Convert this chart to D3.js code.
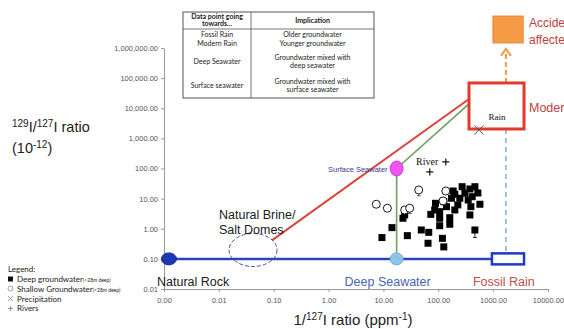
<!DOCTYPE html>
<html><head><meta charset="utf-8">
<script src="https://cdn.jsdelivr.net/npm/d3@7"></script>
<style>body{margin:0;background:#fff}svg{display:block}</style>
</head><body>
<svg id="c" width="564" height="329"></svg>
<script>
// ---- data ----
const xTicks = [0.001, 0.01, 0.1, 1, 10, 100, 1000, 10000];
const yTicks = [0.01, 0.1, 1, 10, 100, 1000, 10000, 100000, 1000000];

const deepX = [9.4, 14.3, 22.7, 24.4, 27.3, 49, 67, 65, 119, 126, 73, 106, 106, 162, 162, 200, 89, 126, 141, 174, 200, 272, 305, 377, 465, 247, 351, 415, 574, 393, 377, 465, 187, 106, 86, 227, 527];
const deepY = [0.51, 1.09, 2.23, 2.87, 0.59, 0.91, 0.76, 0.33, 0.48, 0.25, 3.0, 2.23, 1.26, 2.33, 1.41, 4.2, 7.0, 7.9, 5.4, 10.3, 13.9, 24.9, 15.1, 20.9, 24.9, 10.3, 9.0, 11.6, 6.5, 5.4, 2.87, 0.91, 17.9, 3.69, 4.2, 6.2, 15.4];
const deepErr = [0,0,0,0,0,0,0,0,0,0,0,0,0,0,0,0,0,0,0,0,0,0,0,0,0,0,0,0,0,0,0,0.4,0,0,0,0,0];

const shallowX = [7.4, 11.8, 24.4, 30.1, 44, 137, 122];
const shallowY = [6.5, 4.8, 4.2, 4.8, 19.4, 17.9, 8.4];
const shallowErr = [0, 0, 0, 1.6, 7, 0, 0];

const precipX = [550];
const precipY = [1900];
const riverX = [137, 70];
const riverY = [165, 77];

const endNames = ["Natural Rock", "Deep Seawater", "Surface Seawater"];
const endX = [0.00123, 17.4, 17.4];
const endY = [0.1, 0.1, 100];

const modernRainX = [363, 3656], modernRainY = [2050, 69000];
const fossilRainX = [950, 3656], fossilRainY = 0.1;
const accidentX = [990, 3530], accidentY = [1.47e6, 1.15e7];
const brineX = 0.042, brineY = 0.197;

const redLineX = [0.094, 363], redLineY = [0.42, 20300];
const greenLineX = [17.4, 363], greenLineY = [100, 13900];
const blueLineX = [0.00123, 950];
const dashX = 1710;

const tableRows = [
  ["Fossil Rain", ["Older groundwater"]],
  ["Modern Rain", ["Younger groundwater"]],
  ["Deep Seawater", ["Groundwater mixed with", "deep seawater"]],
  ["Surface seawater", ["Groundwater mixed with", "surface seawater"]]
];

// ---- scales ----
const svg = d3.select("#c");
const x = d3.scaleLog().domain([0.001, 10000]).range([164, 548]);
const y = d3.scaleLog().domain([0.01, 1000000]).range([289, 48]);
const SANS = "Liberation Sans, Arial, sans-serif";

// axes
const xAxis = svg.append("g").attr("transform", "translate(0,289)")
  .call(d3.axisBottom(x).tickValues(xTicks).tickFormat(d3.format(".2f")).tickSize(3).tickSizeOuter(0));
const yAxis = svg.append("g").attr("transform", "translate(164,0)")
  .call(d3.axisLeft(y).tickValues(yTicks).tickFormat(d3.format(",.2f")).tickSize(3).tickSizeOuter(0));
[xAxis, yAxis].forEach(a => {
  a.selectAll("path,line").attr("stroke", "#999");
  a.selectAll("text").attr("fill", "#555").style("font-family", SANS).style("font-size", "7.5px");
});
xAxis.selectAll("text").attr("dy", "1.1em");
yAxis.selectAll("text").attr("x", -6);

// axis titles
const xt = svg.append("text").attr("x", 353).attr("y", 325).attr("text-anchor", "middle")
  .style("font-family", SANS).style("font-size", "15px").attr("fill", "#222");
xt.append("tspan").text("1/");
xt.append("tspan").text("127").attr("dy", -5).style("font-size", "10px");
xt.append("tspan").text("I ratio (ppm").attr("dy", 5);
xt.append("tspan").text("-1").attr("dy", -5).style("font-size", "10px");
xt.append("tspan").text(")").attr("dy", 5);

const yt = svg.append("text").attr("x", 12).attr("y", 132)
  .style("font-family", SANS).style("font-size", "14.5px").attr("fill", "#222");
yt.append("tspan").text("129").attr("dy", -5).style("font-size", "10px");
yt.append("tspan").text("I/").attr("dy", 5);
yt.append("tspan").text("127").attr("dy", -5).style("font-size", "10px");
yt.append("tspan").text("I ratio").attr("dy", 5);
const yt2 = svg.append("text").attr("x", 12).attr("y", 153)
  .style("font-family", SANS).style("font-size", "14.5px").attr("fill", "#222");
yt2.append("tspan").text("(10");
yt2.append("tspan").text("-12").attr("dy", -5).style("font-size", "10px");
yt2.append("tspan").text(")").attr("dy", 5);

// ---- mixing lines ----
const line = d3.line().x(d => x(d[0])).y(d => y(d[1]));
svg.append("path").attr("d", line(blueLineX.map(v => [v, fossilRainY])))
  .attr("stroke", "#2c46b8").attr("stroke-width", 2.5).attr("fill", "none");
svg.append("path").attr("d", line(d3.zip(redLineX, redLineY)))
  .attr("stroke", "#d9453a").attr("stroke-width", 2).attr("fill", "none");
svg.append("path").attr("d", line(d3.zip(greenLineX, greenLineY)))
  .attr("stroke", "#6aa05a").attr("stroke-width", 1.6).attr("fill", "none");
svg.append("path").attr("d", line([[endX[2], endY[2]], [endX[1], endY[1]]]))
  .attr("stroke", "#6aa05a").attr("stroke-width", 1.6).attr("fill", "none");

// dashed light blue
svg.append("line").attr("x1", x(dashX)).attr("x2", x(dashX))
  .attr("y1", y(modernRainY[0])).attr("y2", y(fossilRainY) - 5)
  .attr("stroke", "#86b4de").attr("stroke-width", 1.6).attr("stroke-dasharray", "5,4");

// orange dashed arrow
const ax = x(dashX);
svg.append("line").attr("x1", ax).attr("x2", ax).attr("y1", y(modernRainY[1])).attr("y2", y(accidentY[0]) + 6)
  .attr("stroke", "#f0a050").attr("stroke-width", 2.2).attr("stroke-dasharray", "5,3");
svg.append("path").attr("d", `M${ax - 5},${y(accidentY[0]) + 13} L${ax},${y(accidentY[0]) + 6} L${ax + 5},${y(accidentY[0]) + 13}`)
  .attr("stroke", "#f0a050").attr("stroke-width", 2.2).attr("fill", "none");

// boxes
svg.append("rect").attr("x", x(modernRainX[0])).attr("y", y(modernRainY[1]))
  .attr("width", x(modernRainX[1]) - x(modernRainX[0])).attr("height", y(modernRainY[0]) - y(modernRainY[1]))
  .attr("fill", "#fff").attr("stroke", "#e23a2c").attr("stroke-width", 3);
svg.append("rect").attr("x", x(fossilRainX[0])).attr("y", y(fossilRainY) - 5.5)
  .attr("width", x(fossilRainX[1]) - x(fossilRainX[0])).attr("height", 11)
  .attr("fill", "#fff").attr("stroke", "#2138c0").attr("stroke-width", 2.5);
svg.append("rect").attr("x", x(accidentX[0])).attr("y", y(accidentY[1]))
  .attr("width", x(accidentX[1]) - x(accidentX[0])).attr("height", y(accidentY[0]) - y(accidentY[1]))
  .attr("fill", "#f59a45").attr("stroke", "#e8893a").attr("stroke-width", 1);

// natural brine ellipse
svg.append("ellipse").attr("cx", x(brineX)).attr("cy", y(brineY)).attr("rx", 24).attr("ry", 16.5)
  .attr("fill", "none").attr("stroke", "#4a5a9a").attr("stroke-width", 1).attr("stroke-dasharray", "4,2");

// endmember markers
svg.append("ellipse").attr("cx", x(endX[0])).attr("cy", y(endY[0])).attr("rx", 7.5).attr("ry", 6)
  .attr("fill", "#1f36b5").attr("stroke", "#142a90").attr("stroke-width", 1);
svg.append("ellipse").attr("cx", x(endX[1])).attr("cy", y(endY[1])).attr("rx", 6.5).attr("ry", 6)
  .attr("fill", "#8cc4ec").attr("stroke", "#70aee0").attr("stroke-width", 1);
svg.append("ellipse").attr("cx", x(endX[2])).attr("cy", y(endY[2])).attr("rx", 6.5).attr("ry", 7.5)
  .attr("fill", "#ee55ee").attr("stroke", "#d040d8").attr("stroke-width", 1);

// deep groundwater squares
const gD = svg.append("g");
deepX.forEach((v, i) => {
  const px = x(v), py = y(deepY[i]);
  if (deepErr[i]) {
    gD.append("line").attr("x1", px).attr("x2", px).attr("y1", py).attr("y2", y(deepY[i] - deepErr[i]))
      .attr("stroke", "#000").attr("stroke-width", 0.8);
    gD.append("line").attr("x1", px - 2).attr("x2", px + 2).attr("y1", y(deepY[i] - deepErr[i])).attr("y2", y(deepY[i] - deepErr[i]))
      .attr("stroke", "#000").attr("stroke-width", 0.8);
  }
  gD.append("rect").attr("x", px - 3.5).attr("y", py - 3.5).attr("width", 7).attr("height", 7).attr("fill", "#000");
});
// shallow circles
shallowX.forEach((v, i) => {
  const px = x(v), py = y(shallowY[i]);
  if (shallowErr[i]) {
    svg.append("line").attr("x1", px).attr("x2", px).attr("y1", py).attr("y2", y(shallowY[i] - shallowErr[i]))
      .attr("stroke", "#333").attr("stroke-width", 0.8);
    svg.append("line").attr("x1", px - 2).attr("x2", px + 2).attr("y1", y(shallowY[i] - shallowErr[i])).attr("y2", y(shallowY[i] - shallowErr[i]))
      .attr("stroke", "#333").attr("stroke-width", 0.8);
  }
  svg.append("circle").attr("cx", px).attr("cy", py).attr("r", 4).attr("fill", "#fff").attr("stroke", "#000").attr("stroke-width", 0.9);
});
// precipitation
precipX.forEach((v, i) => {
  const px = x(v), py = y(precipY[i]);
  svg.append("path").attr("d", `M${px-4.5},${py-4.5}L${px+4.5},${py+4.5}M${px-4.5},${py+4.5}L${px+4.5},${py-4.5}`)
    .attr("stroke", "#555").attr("stroke-width", 1);
});
// rivers
riverX.forEach((v, i) => {
  const px = x(v), py = y(riverY[i]);
  svg.append("path").attr("d", `M${px-3.5},${py}L${px+3.5},${py}M${px},${py-3.5}L${px},${py+3.5}`)
    .attr("stroke", "#111").attr("stroke-width", 1.2);
});

// ---- labels ----
function label(t, px, py, size, color, anchor, family, weight) {
  return svg.append("text").attr("x", px).attr("y", py).text(t)
    .attr("text-anchor", anchor || "start").attr("fill", color)
    .style("font-family", family || SANS).style("font-size", size + "px").style("font-weight", weight || "normal");
}
label(endNames[0], 157, 286, 12.5, "#1a1a1a");
label(endNames[1], x(endX[1]) - 9, 286, 12.5, "#4866b0", "middle");
label("Fossil Rain", x(fossilRainX[0]) - 19, 286, 12.5, "#c05048");
label(endNames[2], x(endX[2]) - 9, y(endY[2]) + 3, 7.5, "#3a3a8c", "end");
label("Natural Brine/", 219, 219, 12.5, "#1a1a1a");
label("Salt Domes", 219, 234, 12.5, "#1a1a1a");
label("Rain", 497, 120, 9, "#111", "middle", "Liberation Serif, serif");
label("River", 416, 165, 10, "#111", "start", "Liberation Serif, serif");
// texts shown cut at the right edge in the reference
label("Moder", 529, 112, 12.5, "#c04040");
label("Accide", 529, 27, 12, "#c04040");
label("affecte", 529, 44, 12, "#c04040");

// legend
const LF = "Lato, Open Sans, sans-serif";
label("Legend:", 8, 272, 8, "#222", "start", LF);
svg.append("rect").attr("x", 8).attr("y", 276.5).attr("width", 5).attr("height", 5).attr("fill", "#111");
const l1 = label("Deep groundwater", 17, 281.5, 8, "#222", "start", LF);
l1.append("tspan").text("(>28m deep)").style("font-size", "5px");
svg.append("circle").attr("cx", 10.5).attr("cy", 288.5).attr("r", 2.5).attr("fill", "#fff").attr("stroke", "#777").attr("stroke-width", 0.7);
const l2 = label("Shallow Groundwater", 17, 291.5, 8, "#222", "start", LF);
l2.append("tspan").text("(<28m deep)").style("font-size", "5px");
svg.append("path").attr("d", "M8,296L13,301M8,301L13,296").attr("stroke", "#777").attr("stroke-width", 0.7);
label("Precipitation", 17, 301.5, 8, "#222", "start", LF);
svg.append("path").attr("d", "M8,308.5L13,308.5M10.5,306L10.5,311").attr("stroke", "#777").attr("stroke-width", 0.8);
label("Rivers", 17, 311, 8, "#222", "start", LF);

// ---- table ----
const T = svg.append("g");
const tx0 = 183, tx1 = 374, tMid = 251, ty0 = 12, ty1 = 98, tHead = 29;
T.append("rect").attr("x", tx0).attr("y", ty0).attr("width", tx1 - tx0).attr("height", ty1 - ty0)
  .attr("fill", "#fff").attr("stroke", "#555").attr("stroke-width", 1);
T.append("line").attr("x1", tx0).attr("x2", tx1).attr("y1", tHead).attr("y2", tHead).attr("stroke", "#555").attr("stroke-width", 0.8);
T.append("line").attr("x1", tMid).attr("x2", tMid).attr("y1", ty0).attr("y2", ty1).attr("stroke", "#555").attr("stroke-width", 0.8);
const TF = "Lato, Open Sans, sans-serif";
const c1 = (tx0 + tMid) / 2, c2 = (tMid + tx1) / 2;
function tt(t, px, py, bold) {
  T.append("text").attr("x", px).attr("y", py).text(t).attr("text-anchor", "middle").attr("fill", "#222")
    .style("font-family", TF).style("font-size", "7px").style("font-weight", bold ? "bold" : "normal");
}
tt("Data point going", c1, 19, true);
tt("towards...", c1, 26, true);
tt("Implication", c2, 22.5, true);
const rowY = [37, 45.5, 64, 88];
tableRows.forEach((r, i) => {
  tt(r[0], c1, rowY[i]);
  if (r[1].length === 1) tt(r[1][0], c2, rowY[i]);
  else { tt(r[1][0], c2, rowY[i] - 4); tt(r[1][1], c2, rowY[i] + 4); }
});
</script>
</body></html>
